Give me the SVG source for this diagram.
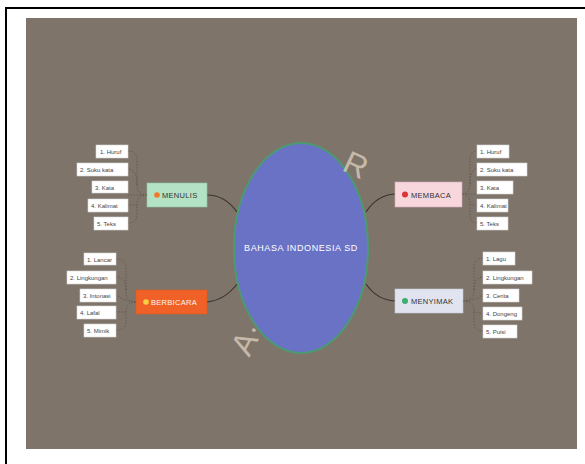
<svg xmlns="http://www.w3.org/2000/svg" width="585" height="464" viewBox="0 0 585 464">
<style>
.leaf rect{fill:#ffffff;stroke:#d8d8d8;stroke-width:0.6}
.leaf text{font-family:"Liberation Sans",Arial,sans-serif;font-size:6px;fill:#444}
.node text{font-family:"Liberation Sans",Arial,sans-serif;font-size:7.5px;fill:#333;letter-spacing:0.3px}
.main{fill:none;stroke:#3a3530;stroke-width:1.2}
.sub{fill:none;stroke:#5a524a;stroke-width:0.7;stroke-dasharray:1.5 1.5}
.wm{font-family:"Liberation Sans",Arial,sans-serif;font-size:32px;fill:#ddd2bf;opacity:0.75}
</style>
<rect x="0" y="0" width="585" height="464" fill="#ffffff"/>
<path d="M6 464 V8 H585" fill="none" stroke="#000" stroke-width="2"/>
<rect x="26" y="18" width="551" height="431" fill="#7f746a"/>
<g id="connectors">
<path class="main" d="M207 195 Q225 195 237 212"/>
<path class="main" d="M207 302 Q225 300 237 284"/>
<path class="main" d="M395 194 Q377 195 366 212"/>
<path class="main" d="M395 301 Q377 300 366 284"/>
<path class="sub" d="M147 195 Q137 195 137 185 V160 Q137 151 128 151"/>
<path class="sub" d="M137 185 Q137 169 128 169"/>
<path class="sub" d="M147 195 H128"/>
<path class="sub" d="M147 195 Q137 195 137 205 V215 Q137 223 128 223"/>
<path class="sub" d="M137 205 Q137 205 128 205"/>
<path class="sub" d="M136 302 Q126 302 126 292 V268 Q126 259 116 259"/>
<path class="sub" d="M126 290 Q126 277 116 277"/>
<path class="sub" d="M136 302 Q126 302 116 295"/>
<path class="sub" d="M136 302 Q126 302 126 312 V322 Q126 330 116 330"/>
<path class="sub" d="M126 312 Q126 312 116 312"/>
<path class="sub" d="M462 194 Q470 194 470 184 V160 Q470 151 477 151"/>
<path class="sub" d="M470 184 Q470 169 477 169"/>
<path class="sub" d="M462 194 H477"/>
<path class="sub" d="M462 194 Q470 194 470 204 V215 Q470 223 477 223"/>
<path class="sub" d="M470 204 Q470 205 477 205"/>
<path class="sub" d="M463 301 Q474 301 474 291 V268 Q474 258 483 258"/>
<path class="sub" d="M474 290 Q474 277 483 277"/>
<path class="sub" d="M463 301 Q474 301 483 295"/>
<path class="sub" d="M463 301 Q474 301 474 311 V322 Q474 331 483 331"/>
<path class="sub" d="M474 311 Q474 313 483 313"/>
</g>
<g id="center">
<ellipse cx="301" cy="248" rx="67" ry="105" fill="#6a72c6" stroke="#4c9a70" stroke-width="2"/>
<text x="301" y="251" text-anchor="middle" font-family="Liberation Sans,Arial,sans-serif" font-size="9" fill="#ffffff" letter-spacing="0.6">BAHASA INDONESIA SD</text>
</g>
<g id="menulis" class="node">
<rect x="147" y="183" width="60" height="24" fill="#b3e2c4" stroke="#8fc6a4" stroke-width="0.6"/>
<circle cx="157" cy="195" r="2.8" fill="#f07a2a"/>
<text x="162" y="198">MENULIS</text>
</g>
<g id="membaca" class="node">
<rect x="395" y="182" width="67" height="25" fill="#f7d6dc" stroke="#d8b0b8" stroke-width="0.6"/>
<circle cx="405" cy="194.5" r="3" fill="#e0303a"/>
<text x="411" y="197.5">MEMBACA</text>
</g>
<g id="berbicara" class="node">
<rect x="136" y="290" width="71" height="24" fill="#ef6127" stroke="#d85a20" stroke-width="0.6"/>
<circle cx="146" cy="302" r="2.8" fill="#f6d040"/>
<text x="151" y="305" style="fill:#fff6ee">BERBICARA</text>
</g>
<g id="menyimak" class="node">
<rect x="395" y="289" width="68" height="24" fill="#e1e4ee" stroke="#c4c8d4" stroke-width="0.6"/>
<circle cx="405" cy="301" r="3" fill="#3cae70"/>
<text x="411" y="304">MENYIMAK</text>
</g>
<g id="menulis-leaves" class="leaf">
<g id="ml1"><rect x="96" y="145" width="32" height="13"/><text x="100" y="154">1. Huruf</text></g>
<g id="ml2"><rect x="77" y="163" width="51" height="13"/><text x="80" y="172">2. Suku kata</text></g>
<g id="ml3"><rect x="92" y="181" width="36" height="12"/><text x="95" y="189.5">3. Kata</text></g>
<g id="ml4"><rect x="88" y="199" width="40" height="13"/><text x="91" y="208">4. Kalimat</text></g>
<g id="ml5"><rect x="94" y="217" width="34" height="13"/><text x="97" y="226">5. Teks</text></g>
</g>
<g id="berbicara-leaves" class="leaf">
<g id="bl1"><rect x="84" y="253" width="32" height="12"/><text x="87" y="261.5">1. Lancar</text></g>
<g id="bl2"><rect x="67" y="271" width="49" height="13"/><text x="70" y="280">2. Lingkungan</text></g>
<g id="bl3"><rect x="80" y="289" width="36" height="13"/><text x="83" y="298">3. Intonasi</text></g>
<g id="bl4"><rect x="77" y="306" width="39" height="13"/><text x="80" y="315">4. Lafal</text></g>
<g id="bl5"><rect x="84" y="324" width="32" height="13"/><text x="87" y="333">5. Mimik</text></g>
</g>
<g id="membaca-leaves" class="leaf">
<g id="rl1"><rect x="477" y="145" width="32" height="13"/><text x="480" y="154">1. Huruf</text></g>
<g id="rl2"><rect x="477" y="163" width="50" height="13"/><text x="480" y="172">2. Suku kata</text></g>
<g id="rl3"><rect x="477" y="181" width="36" height="13"/><text x="480" y="190">3. Kata</text></g>
<g id="rl4"><rect x="477" y="199" width="31" height="13"/><text x="480" y="208">4. Kalimat</text></g>
<g id="rl5"><rect x="477" y="217" width="31" height="13"/><text x="480" y="226">5. Teks</text></g>
</g>
<g id="menyimak-leaves" class="leaf">
<g id="yl1"><rect x="483" y="252" width="32" height="13"/><text x="486" y="261">1. Lagu</text></g>
<g id="yl2"><rect x="483" y="271" width="49" height="13"/><text x="486" y="280">2. Lingkungan</text></g>
<g id="yl3"><rect x="483" y="289" width="36" height="13"/><text x="486" y="298">3. Cerita</text></g>
<g id="yl4"><rect x="483" y="307" width="39" height="13"/><text x="486" y="316">4. Dongeng</text></g>
<g id="yl5"><rect x="483" y="325" width="34" height="13"/><text x="486" y="334">5. Puisi</text></g>
</g>
<text class="wm" x="356" y="176" transform="rotate(25 356 165)" text-anchor="middle">R</text>
<text class="wm" x="246" y="350" transform="rotate(-62 246 338)" text-anchor="middle">A·</text>
</svg>
